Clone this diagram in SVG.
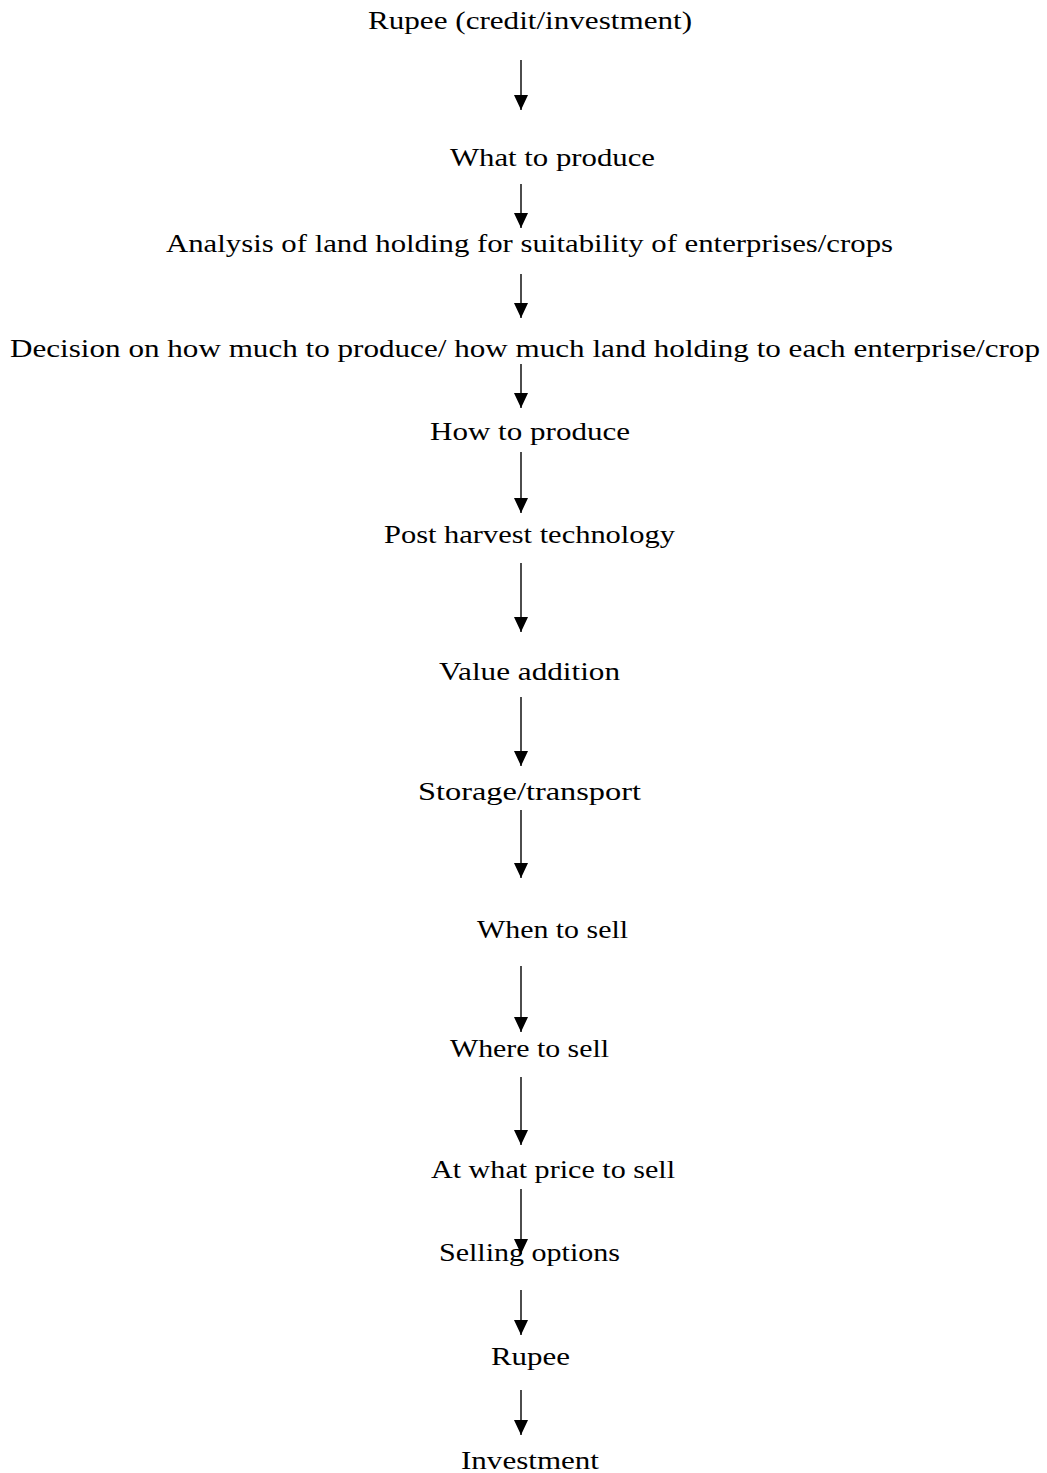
<svg xmlns="http://www.w3.org/2000/svg" width="1047" height="1473" viewBox="0 0 1047 1473">
  <style>
    text { font-family: "Liberation Serif", "DejaVu Serif", serif; font-size: 25px; fill: #000; }
    .arrow { stroke: #000; stroke-width: 1.4; fill: none; marker-end: url(#head); }
  </style>
  <defs>
    <!-- filled triangular head; points along +x so orient="auto" turns it down the line -->
    <marker id="head" viewBox="0 0 15 14" refX="15" refY="7" markerWidth="15" markerHeight="14" markerUnits="userSpaceOnUse" orient="auto">
      <path d="M0,0 L15,7 L0,14 Z" fill="#000"/>
    </marker>
  </defs>
  <rect width="1047" height="1473" fill="#fff"/>

  <g id="n1"><text x="368" y="29" textLength="324" lengthAdjust="spacingAndGlyphs">Rupee (credit/investment)</text></g>
  <g id="n2"><text x="450" y="166" textLength="205" lengthAdjust="spacingAndGlyphs">What to produce</text></g>
  <g id="n3"><text x="166" y="252" textLength="727" lengthAdjust="spacingAndGlyphs">Analysis of land holding for suitability of enterprises/crops</text></g>
  <g id="n4"><text x="10" y="357" textLength="1030" lengthAdjust="spacingAndGlyphs">Decision on how much to produce/ how much land holding to each enterprise/crop</text></g>
  <g id="n5"><text x="430" y="440" textLength="200" lengthAdjust="spacingAndGlyphs">How to produce</text></g>
  <g id="n6"><text x="384" y="543" textLength="291" lengthAdjust="spacingAndGlyphs">Post harvest technology</text></g>
  <g id="n7"><text x="439" y="680" textLength="181" lengthAdjust="spacingAndGlyphs">Value addition</text></g>
  <g id="n8"><text x="418" y="800" textLength="223" lengthAdjust="spacingAndGlyphs">Storage/transport</text></g>
  <g id="n9"><text x="477" y="938" textLength="151" lengthAdjust="spacingAndGlyphs">When to sell</text></g>
  <g id="n10"><text x="450" y="1057" textLength="159" lengthAdjust="spacingAndGlyphs">Where to sell</text></g>
  <g id="n11"><text x="431" y="1178" textLength="244" lengthAdjust="spacingAndGlyphs">At what price to sell</text></g>
  <g id="n12"><text x="439" y="1261" textLength="181" lengthAdjust="spacingAndGlyphs">Selling options</text></g>
  <g id="n13"><text x="491" y="1365" textLength="79" lengthAdjust="spacingAndGlyphs">Rupee</text></g>
  <g id="n14"><text x="461" y="1469" textLength="138" lengthAdjust="spacingAndGlyphs">Investment</text></g>

  <g id="connectors">
    <line class="arrow" x1="521" y1="60" x2="521" y2="110"/>
    <line class="arrow" x1="521" y1="184" x2="521" y2="228"/>
    <line class="arrow" x1="521" y1="274" x2="521" y2="318"/>
    <line class="arrow" x1="521" y1="364" x2="521" y2="408"/>
    <line class="arrow" x1="521" y1="452" x2="521" y2="513"/>
    <line class="arrow" x1="521" y1="563" x2="521" y2="632"/>
    <line class="arrow" x1="521" y1="697" x2="521" y2="766"/>
    <line class="arrow" x1="521" y1="810" x2="521" y2="878"/>
    <line class="arrow" x1="521" y1="966" x2="521" y2="1032"/>
    <line class="arrow" x1="521" y1="1077" x2="521" y2="1145"/>
    <line class="arrow" x1="521" y1="1189" x2="521" y2="1254"/>
    <line class="arrow" x1="521" y1="1290" x2="521" y2="1335"/>
    <line class="arrow" x1="521" y1="1390" x2="521" y2="1435"/>
  </g>
</svg>
